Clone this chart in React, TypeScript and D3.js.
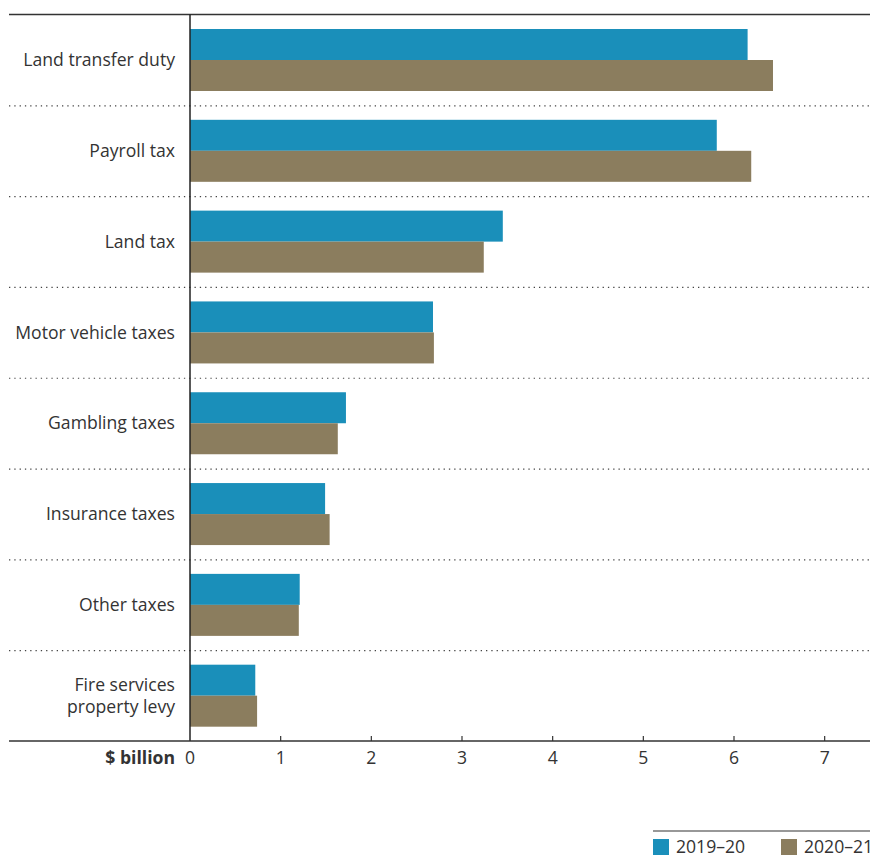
import React from "react";
import * as d3 from "d3";

const categories = [
  ["Land transfer duty"],
  ["Payroll tax"],
  ["Land tax"],
  ["Motor vehicle taxes"],
  ["Gambling taxes"],
  ["Insurance taxes"],
  ["Other taxes"],
  ["Fire services", "property levy"],
];
const series2019 = [6.15, 5.81, 3.45, 2.68, 1.72, 1.49, 1.21, 0.72];
const series2020 = [6.43, 6.19, 3.24, 2.69, 1.63, 1.54, 1.2, 0.74];
const ticks = [0, 1, 2, 3, 4, 5, 6, 7];
const seriesNames = ["2019–20", "2020–21"];
const colors = ["#1a8fba", "#8b7d5e"];

const W = 872;
const H = 857;
const left = 9;
const right = 870;
const top = 14.5;
const bottom = 741;
const font = "'Open Sans', sans-serif";
const textColor = "#333";
const fs = 17.6;

export default function App() {
  const x = d3.scaleLinear().domain([0, 7.5]).range([190, 870]);
  const y = d3
    .scaleBand<number>()
    .domain(d3.range(categories.length))
    .range([top, bottom])
    .paddingInner(0)
    .paddingOuter(0);
  const barH = 31;
  const barOff = 14.5;

  return (
    <svg
      width={W}
      height={H}
      style={{ position: "absolute", left: 0, top: 0 }}
      fontFamily={font}
    >
      <rect width={W} height={H} fill="#fff" />
      {d3.range(1, categories.length).map((i) => (
        <line
          key={"s" + i}
          x1={left}
          x2={right}
          y1={y(i)! + 0.5}
          y2={y(i)! + 0.5}
          stroke="#444"
          strokeWidth={1.2}
          strokeDasharray="1.3,4"
        />
      ))}
      {categories.map((c, i) => (
        <g key={"b" + i}>
          <rect
            x={x(0)}
            y={y(i)! + barOff}
            width={x(series2019[i]) - x(0)}
            height={barH}
            fill={colors[0]}
          />
          <rect
            x={x(0)}
            y={y(i)! + barOff + barH}
            width={x(series2020[i]) - x(0)}
            height={barH}
            fill={colors[1]}
          />
        </g>
      ))}
      {categories.map((c, i) => {
        const cy = y(i)! + barOff + barH;
        const lh = 22;
        const start = cy - ((c.length - 1) * lh) / 2;
        return (
          <text key={"l" + i} textAnchor="end" fontSize={fs} fill={textColor} x={175}>
            {c.map((line, j) => (
              <tspan key={j} x={175} y={start + j * lh} dy="0.35em">
                {line}
              </tspan>
            ))}
          </text>
        );
      })}
      <line x1={left} x2={right} y1={top} y2={top} stroke="#333" strokeWidth={1.5} />
      <line x1={x(0)} x2={x(0)} y1={top} y2={bottom} stroke="#222" strokeWidth={1.5} />
      <line x1={left} x2={right} y1={bottom} y2={bottom} stroke="#333" strokeWidth={1.5} />
      {ticks.map((t) => (
        <g key={"t" + t}>
          {t > 0 && (
            <line x1={x(t)} x2={x(t)} y1={bottom - 5} y2={bottom} stroke="#333" strokeWidth={1.2} />
          )}
          <text x={x(t)} y={758} dy="0.35em" textAnchor="middle" fontSize={fs} fill={textColor}>
            {t}
          </text>
        </g>
      ))}
      <text
        x={175}
        y={758}
        dy="0.35em"
        textAnchor="end"
        fontSize={fs}
        fontWeight="bold"
        fill={textColor}
      >
        $ billion
      </text>
      <line x1={653} x2={870} y1={831} y2={831} stroke="#333" strokeWidth={1.2} />
      {seriesNames.map((s, i) => {
        const lx = i === 0 ? 653 : 781;
        return (
          <g key={"lg" + i}>
            <rect x={lx} y={839} width={16} height={16} fill={colors[i]} />
            <text x={lx + 23} y={847} dy="0.35em" fontSize={fs} fill={textColor}>
              {s}
            </text>
          </g>
        );
      })}
    </svg>
  );
}
